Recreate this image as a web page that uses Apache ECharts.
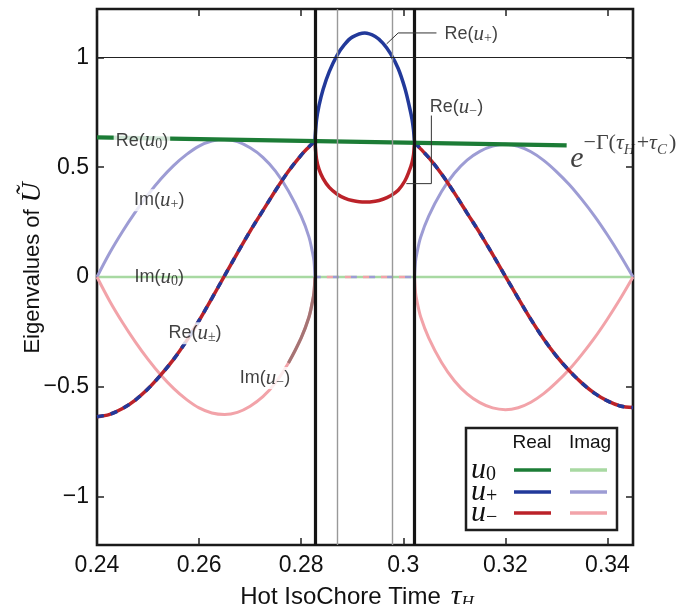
<!DOCTYPE html>
<html>
<head>
<meta charset="utf-8">
<script src="https://cdn.jsdelivr.net/npm/echarts@6/dist/echarts.min.js"></script>
<style>html,body{margin:0;padding:0;background:#fff;}#chart{width:691px;height:604px;}</style>
</head>
<body>
<div id="chart"></div>
<script>
// ---- axes ----
const xMin = 0.24, xMax = 0.345;
const yMin = -1.22, yMax = 1.22;
const xTicks = [0.24, 0.26, 0.28, 0.30, 0.32, 0.34];
const xTickLabels = ['0.24', '0.26', '0.28', '0.3', '0.32', '0.34'];
const yTicks = [-1, -0.5, 0, 0.5, 1];
const yTickLabels = ['\u22121', '\u22120.5', '0', '0.5', '1'];

// ---- Re(u0) = e^{-Gamma(tauH+tauC)} and Im(u0) ----
const u0Tau = [0.24, 0.332];
const u0Re = [0.636, 0.599];
const u0ImTau = [0.24, 0.345];
const u0Im = [0, 0];

// ---- left complex region ----
const tauL = [0.2400,0.2425,0.2450,0.2475,0.2500,0.2525,0.2550,0.2575,0.2600,0.2625,0.2650,0.2675,0.2700,0.2725,0.2750,0.2775,0.2800,0.2815,0.2822,0.2825,0.2827];
const reL = [-0.636,-0.625,-0.599,-0.560,-0.509,-0.446,-0.375,-0.292,-0.198,-0.097,0.006,0.109,0.209,0.302,0.395,0.481,0.555,0.592,0.608,0.615,0.619];
const imPlusL = [0,0.110,0.207,0.295,0.375,0.446,0.507,0.557,0.596,0.619,0.626,0.616,0.588,0.545,0.481,0.392,0.277,0.184,0.113,0.073,0];
const imMinusL = [0,-0.110,-0.207,-0.295,-0.375,-0.446,-0.507,-0.557,-0.596,-0.619,-0.626,-0.616,-0.588,-0.545,-0.481,-0.392,-0.277,-0.184,-0.113,-0.073,0];

// ---- middle real region ----
const tauM = [0.2827,0.2830,0.2835,0.2843,0.2855,0.2870,0.2885,0.2900,0.29245,0.2945,0.2960,0.2975,0.2990,0.3003,0.3012,0.3017,0.3020,0.3022];
const uPlusM = [0.619,0.713,0.781,0.855,0.935,1.008,1.059,1.092,1.111,1.095,1.065,1.017,0.949,0.860,0.775,0.720,0.670,0.611];
const uMinusM = [0.619,0.537,0.490,0.448,0.408,0.378,0.359,0.348,0.341,0.345,0.354,0.370,0.395,0.437,0.485,0.520,0.555,0.611];
const tauMIm = [0.2827, 0.3022];
const imMidZero = [0, 0];

// ---- right complex region ----
const tauR = [0.3022,0.3024,0.3027,0.3034,0.3050,0.3075,0.3100,0.3125,0.3150,0.3175,0.3200,0.3225,0.3250,0.3275,0.3300,0.3325,0.3350,0.3375,0.3400,0.3425,0.3450];
const reR = [0.611,0.607,0.601,0.583,0.543,0.469,0.383,0.291,0.200,0.103,0.003,-0.096,-0.193,-0.282,-0.360,-0.426,-0.483,-0.530,-0.564,-0.587,-0.594];
const imPlusR = [0,0.071,0.112,0.181,0.278,0.389,0.472,0.532,0.572,0.596,0.604,0.595,0.570,0.531,0.480,0.421,0.352,0.276,0.191,0.099,0];
const imMinusR = [0,-0.071,-0.112,-0.181,-0.278,-0.389,-0.472,-0.532,-0.572,-0.596,-0.604,-0.595,-0.570,-0.531,-0.480,-0.421,-0.352,-0.276,-0.191,-0.099,0];

// ---- reference lines ----
const branchLines = [0.2827, 0.3022];
const thinLines = [0.2870, 0.2979];
const hLine = [1];

// ---- annotation positions (data space) ----
const leaderPlusTau = [0.29673, 0.2990, 0.3065];
const leaderPlusVal = [1.061, 1.111, 1.111];
const leaderMinusTau = [0.3006, 0.3055, 0.3055];
const leaderMinusVal = [0.425, 0.425, 0.735];
const highlightStart = 15; // Im(u-) drawn darker from tau=0.2775

const C = {
  green: '#1c7c36', blue: '#22399a', red: '#bb2229',
  lgreen: '#a8d9a2', lpurple: '#9d9cd4', pink: '#f2a3a9', brown: '#a57474'
};

const zip = (t, v) => t.map((x, i) => [x, v[i]]);
const SANS = 'Liberation Sans, Arial, sans-serif';
const SERIF = 'Liberation Serif, DejaVu Serif, serif';
const INK = '#111';

function line(name, t, v, color, width, z, extra) {
  return Object.assign({
    name, type: 'line', data: zip(t, v), showSymbol: false, symbol: 'none',
    smooth: 0.35, z, clip: false,
    lineStyle: { color, width, cap: 'butt' }, silent: true
  }, extra || {});
}

const labRich = {
  a: { fontFamily: SANS, fontSize: 18, color: INK, lineHeight: 22 },
  u: { fontFamily: SERIF, fontStyle: 'italic', fontSize: 21, color: INK, lineHeight: 22 },
  s: { fontFamily: SERIF, fontSize: 14, color: INK, lineHeight: 13, verticalAlign: 'bottom' },
  e: { fontFamily: SERIF, fontStyle: 'italic', fontSize: 30, color: INK, lineHeight: 42, verticalAlign: 'bottom' },
  p: { fontFamily: SERIF, fontSize: 22, color: INK, lineHeight: 22, verticalAlign: 'top' },
  t: { fontFamily: SERIF, fontStyle: 'italic', fontSize: 22, color: INK, lineHeight: 22, verticalAlign: 'top' },
  q: { fontFamily: SERIF, fontStyle: 'italic', fontSize: 15, color: INK, lineHeight: 15, verticalAlign: 'top', padding: [11, 2, 0, 0] }
};

const labelTau = [0.2488, 0.2522, 0.2522, 0.2592, 0.2729, 0.3077, 0.3048, 0.3323];
const labelVal = [0.620, 0.349, 0.0, -0.256, -0.460, 1.105, 0.773, 0.565];
const labelText = [
  '{a|Re(}{u|u}{s|0}{a|)}',
  '{a|Im(}{u|u}{s|+}{a|)}',
  '{a|Im(}{u|u}{s|0}{a|)}',
  '{a|Re(}{u|u}{s|\u00b1}{a|)}',
  '{a|Im(}{u|u}{s|\u2212}{a|)}',
  '{a|Re(}{u|u}{s|+}{a|)}',
  '{a|Re(}{u|u}{s|\u2212}{a|)}',
  '{e|e}{p|\u2212\u0393(}{t|\u03c4}{q|H}{p|+}{t|\u03c4}{q|C}{p|)}'
];
const labelBg = [true, true, false, true, true, false, false, false];
const labelLeft = [false, false, false, false, false, true, true, true];

const labelData = labelTau.map((t, i) => ({
  value: [t, labelVal[i]],
  label: {
    show: true, formatter: labelText[i], rich: labRich, color: INK, textBorderWidth: 0,
    position: labelLeft[i] ? 'right' : 'inside', distance: 0,
    backgroundColor: labelBg[i] ? '#fff' : 'transparent', padding: [0, 2, 0, 2]
  }
}));

const series = [
  line('Im(u0)', u0ImTau, u0Im, C.lgreen, 2.5, 2, {
    markLine: {
      silent: true, symbol: 'none', z: 6, precision: 6, label: { show: false },
      data: [
        ...thinLines.map(x => ({ xAxis: x, lineStyle: { color: '#999', width: 1.4, type: 'solid' } })),
        ...branchLines.map(x => ({ xAxis: x, lineStyle: { color: '#141414', width: 3.2, type: 'solid' } })),
        ...hLine.map(y => ({ yAxis: y, lineStyle: { color: '#222', width: 1, type: 'solid' } }))
      ]
    }
  }),
  line('Im(u+) mid', tauMIm, imMidZero, C.lpurple, 2.5, 2, { lineStyle: { color: C.lpurple, width: 2.5, type: [6, 12] } }),
  line('Im(u-) mid', tauMIm, imMidZero, C.pink, 2.5, 2, { lineStyle: { color: C.pink, width: 2.5, type: [6, 12], dashOffset: 6 } }),
  line('Im(u+) L', tauL, imPlusL, C.lpurple, 3, 2),
  line('Im(u-) L', tauL, imMinusL, C.pink, 3, 2),
  line('Im(u-) L hl', tauL.slice(highlightStart), imMinusL.slice(highlightStart), C.brown, 3.2, 2.5),
  line('Im(u+) R', tauR, imPlusR, C.lpurple, 3, 2),
  line('Im(u-) R', tauR, imMinusR, C.pink, 3, 2),
  line('Re L red', tauL, reL, C.red, 3.5, 3),
  line('Re L blue', tauL, reL, C.blue, 3.5, 3.1, { lineStyle: { color: C.blue, width: 3.5, type: [7, 7] } }),
  line('Re R red', tauR, reR, C.red, 3.5, 3),
  line('Re R blue', tauR, reR, C.blue, 3.5, 3.1, { lineStyle: { color: C.blue, width: 3.5, type: [7, 7] } }),
  line('Re(u+) mid', tauM, uPlusM, C.blue, 3.5, 3),
  line('Re(u-) mid', tauM, uMinusM, C.red, 3.5, 3),
  line('Re(u0)', u0Tau, u0Re, C.green, 4.2, 4, { smooth: false }),
  line('leader+', leaderPlusTau, leaderPlusVal, '#333', 1, 7, { smooth: false }),
  line('leader-', leaderMinusTau, leaderMinusVal, '#333', 1, 7, { smooth: false }),
  { name: 'labels', type: 'scatter', data: labelData, symbolSize: 0, z: 10, silent: true, clip: false }
];

const tickFmtX = v => { const i = xTicks.findIndex(t => Math.abs(t - v) < 1e-9); return i >= 0 ? xTickLabels[i] : ''; };
const tickFmtY = v => { const i = yTicks.findIndex(t => Math.abs(t - v) < 1e-9); return i >= 0 ? yTickLabels[i] : ''; };

function xAxisDef(pos, labels) {
  return {
    type: 'value', min: xMin, max: xMax, position: pos,
    axisLine: { show: false, onZero: false }, splitLine: { show: false },
    axisTick: { show: true, inside: true, length: 7, customValues: xTicks, lineStyle: { color: '#222', width: 1.5 } },
    axisLabel: { show: labels, customValues: xTicks, formatter: tickFmtX, fontSize: 23, fontFamily: SANS, color: INK, margin: 9 }
  };
}
function yAxisDef(pos, labels) {
  return {
    type: 'value', min: yMin, max: yMax, position: pos,
    axisLine: { show: false, onZero: false }, splitLine: { show: false },
    axisTick: { show: true, inside: true, length: 7, customValues: yTicks, lineStyle: { color: '#222', width: 1.5 } },
    axisLabel: { show: labels, customValues: yTicks, formatter: tickFmtY, fontSize: 23, fontFamily: SANS, color: INK, margin: 8 }
  };
}

const xA = xAxisDef('bottom', true);
xA.name = '{a|Hot IsoChore Time}   {t|\u03c4}{s|H}';
xA.nameLocation = 'middle';
xA.nameGap = 31;
xA.nameTextStyle = {
  padding: [0, 16, 0, 0],
  rich: {
    a: { fontFamily: SANS, fontSize: 24, color: INK, lineHeight: 28 },
    t: { fontFamily: SERIF, fontStyle: 'italic', fontSize: 30, color: INK, lineHeight: 28 },
    s: { fontFamily: SERIF, fontStyle: 'italic', fontSize: 17, color: INK, lineHeight: 16, verticalAlign: 'bottom' }
  }
};
const xTop = xAxisDef('top', false);
const yL = yAxisDef('left', true);
const yR = yAxisDef('right', false);

const legendRowsY = [470, 492, 513];
const legendSubs = ['0', '+', '\u2212'];
const legendReal = [C.green, C.blue, C.red];
const legendImag = [C.lgreen, C.lpurple, C.pink];

const graphic = [
  { type: 'rect', z: 100, shape: { x: 466, y: 428, width: 151, height: 102 }, style: { fill: '#fff', stroke: '#1e1e1e', lineWidth: 2.5 } },
  { type: 'text', z: 101, x: 532, y: 443, style: { text: 'Real', font: '19px ' + SANS, fill: INK, align: 'center', verticalAlign: 'middle' } },
  { type: 'text', z: 101, x: 590, y: 443, style: { text: 'Imag', font: '19px ' + SANS, fill: INK, align: 'center', verticalAlign: 'middle' } },
  {
    type: 'text', z: 101, x: 33, y: 268, rotation: Math.PI / 2,
    style: {
      text: '{a|Eigenvalues of}  {u|\u0168}', align: 'center', verticalAlign: 'middle',
      rich: {
        a: { fontFamily: SANS, fontSize: 22, fill: INK, lineHeight: 30 },
        u: { fontFamily: SERIF, fontStyle: 'italic', fontSize: 28, fill: INK, lineHeight: 30 }
      }
    }
  }
];
legendRowsY.forEach((y, i) => {
  graphic.push({
    type: 'text', z: 101, x: 471, y: y, style: {
      text: '{u|u}{s|' + legendSubs[i] + '}', align: 'left', verticalAlign: 'middle',
      rich: {
        u: { fontFamily: SERIF, fontStyle: 'italic', fontSize: 30, fill: INK, lineHeight: 30 },
        s: { fontFamily: SERIF, fontSize: 20, fill: INK, lineHeight: 16, verticalAlign: 'bottom' }
      }
    }
  });
  graphic.push({ type: 'line', z: 101, shape: { x1: 514, y1: y, x2: 551, y2: y }, style: { stroke: legendReal[i], lineWidth: 3.5 } });
  graphic.push({ type: 'line', z: 101, shape: { x1: 570, y1: y, x2: 607, y2: y }, style: { stroke: legendImag[i], lineWidth: 3.5 } });
});

const chart = echarts.init(document.getElementById('chart'), null, { renderer: 'canvas' });
chart.setOption({
  animation: false,
  backgroundColor: '#fff',
  grid: { left: 97, top: 9, width: 536, height: 536, show: true, outerBoundsMode: 'none', containLabel: false, borderColor: '#1a1a1a', borderWidth: 2.6, backgroundColor: 'transparent' },
  xAxis: [xA, xTop],
  yAxis: [yL, yR],
  series,
  graphic
});
</script>
</body>
</html>
